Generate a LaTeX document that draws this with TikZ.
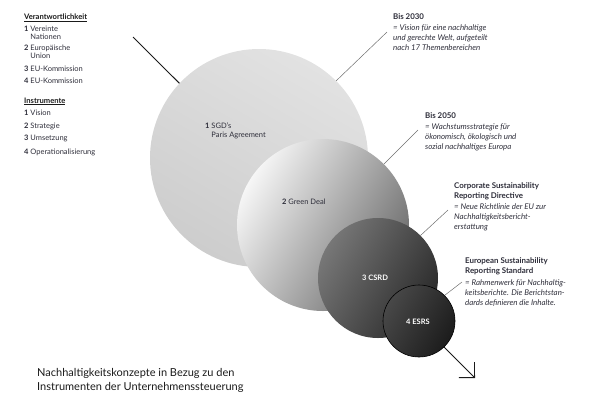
\documentclass[tikz,border=0pt]{standalone}
\usepackage{fontspec}
\setmainfont{Lato}
\usepackage{xcolor}
\usetikzlibrary{arrows.meta}
\definecolor{inkdark}{HTML}{1A1A1A}
\definecolor{inkgrey}{HTML}{2E2E3A}
\definecolor{leadgrey}{HTML}{6E6E6E}
\definecolor{sgdlight}{HTML}{E2E2E2}
\definecolor{sgddark}{HTML}{CDCDCD}
\definecolor{gdlight}{HTML}{F6F6F6}
\definecolor{gddark}{HTML}{6C6C6C}
\definecolor{csrdlight}{HTML}{777777}
\definecolor{csrddark}{HTML}{2A2A2A}
\definecolor{esrslight}{HTML}{484848}
\definecolor{esrsdark}{HTML}{1C1C1C}

\begin{document}
\begin{tikzpicture}[x=1pt,y=-1pt,
  sidehead/.style={anchor=north west,inner sep=0pt,font=\fontsize{7.6}{8}\selectfont\bfseries,text=inkdark},
  sideitem/.style={anchor=north west,inner sep=0pt,align=left,font=\fontsize{7.5}{7.8}\selectfont,text=inkgrey},
  note/.style={anchor=north west,inner sep=0pt,align=left,font=\fontsize{7.9}{10}\selectfont,text=inkgrey},
  bubble/.style={circle,inner sep=0pt,minimum size=#1},
  inlabel/.style={anchor=north west,inner sep=0pt,align=left,font=\fontsize{7.5}{9}\selectfont,text=inkgrey},
  leader/.style={draw=leadgrey,line width=0.5pt},
  flow/.style={draw=inkdark,line width=0.9pt,-{Straight Barb[length=11pt,width=22pt]}}]
\useasboundingbox (0,0) rectangle (592,400);

% left column
\node[sidehead] (hresp) at (24,13.4) {\underline{Verantwortlichkeit}};
\node[sideitem] (r1) at (24,25.9) {\textbf{1} Vereinte\\\phantom{\textbf{1} }Nationen};
\node[sideitem] (r2) at (24,44.9) {\textbf{2} Europäische\\\phantom{\textbf{2} }Union};
\node[sideitem] (r3) at (24,65.4) {\textbf{3} EU-Kommission};
\node[sideitem] (r4) at (24,77.9) {\textbf{4} EU-Kommission};
\node[sidehead] (hinst) at (24,97.4) {\underline{Instrumente}};
\node[sideitem] (i1) at (24,109.9) {\textbf{1} Vision};
\node[sideitem] (i2) at (24,122.9) {\textbf{2} Strategie};
\node[sideitem] (i3) at (24,134.9) {\textbf{3} Umsetzung};
\node[sideitem] (i4) at (24,148.4) {\textbf{4} Operationalisierung};

% axis behind the circles
\coordinate (axstart) at (133,37);
\coordinate (axend) at (475,378);
\draw[flow] (axstart) -- (axend);

% circles
\node[bubble=218pt,top color=sgdlight,bottom color=sgddark,shading angle=-30] (c1) at (259,158) {};
\node[bubble=172pt,top color=gdlight,bottom color=gddark,shading angle=60] (c2) at (323,225) {};
\node[bubble=120pt,top color=csrdlight,bottom color=csrddark,shading angle=60] (c3) at (378,278) {};
\node[bubble=72pt,top color=esrslight,bottom color=esrsdark,shading angle=60,
  draw=black,line width=0.6pt] (c4) at (419,321) {};

\node[inlabel] (sgd) at (205,122.2) {\textbf{1} SGD's\\\phantom{\textbf{1} }Paris Agreement};
\node[inlabel,anchor=west] (gd) at (282,202) {\textbf{2} Green Deal};
\node[inlabel,anchor=west,text=white,font=\fontsize{7.5}{9}\selectfont\bfseries] (csrd) at (362,278) {3 CSRD};
\node[inlabel,anchor=west,text=white,font=\fontsize{7.5}{9}\selectfont\bfseries] (esrs) at (406,322) {4 ESRS};

% notes on the right
\node[note] (n2030) at (393,13.8) {\textbf{Bis 2030}\\[1pt]
  \textit{= Vision für eine nachhaltige}\\\textit{und gerechte Welt, aufgeteilt}\\
  \textit{nach 17 Themenbereichen}};
\node[note] (n2050) at (425,112.8) {\textbf{Bis 2050}\\[1pt]
  \textit{= Wachstumsstrategie für}\\\textit{ökonomisch, ökologisch und}\\
  \textit{sozial nachhaltiges Europa}};
\node[note] (ncsrd) at (454,182.8) {\textbf{Corporate Sustainability}\\\textbf{Reporting Directive}\\[1pt]
  \textit{= Neue Richtlinie der EU zur}\\\textit{Nachhaltigkeitsbericht-}\\
  \textit{erstattung}};
\node[note] (nesrs) at (465,257.8) {\textbf{European Sustainability}\\\textbf{Reporting Standard}\\[2pt]
  \textit{= Rahmenwerk für Nachhaltig-}\\\textit{keitsberichte. Die Berichtstan-}\\
  \textit{dards definieren die Inhalte.}};

% leader lines
\coordinate (l2030) at (387,32);
\coordinate (l2050) at (418,130);
\coordinate (lcsrd) at (448,210);
\coordinate (lesrs) at (462,282);
\draw[leader] (c1.45) -- (l2030);
\draw[leader] (c2.45) -- (l2050);
\draw[leader] (c3.45) -- (lcsrd);
\draw[leader] (c4.45) -- (lesrs);

% caption
\node[anchor=north west,inner sep=0pt,align=left,font=\fontsize{11}{14}\selectfont,text=inkdark]
  (caption) at (37,368) {Nachhaltigkeitskonzepte in Bezug zu den\\Instrumenten der Unternehmenssteuerung};
\end{tikzpicture}
\end{document}
